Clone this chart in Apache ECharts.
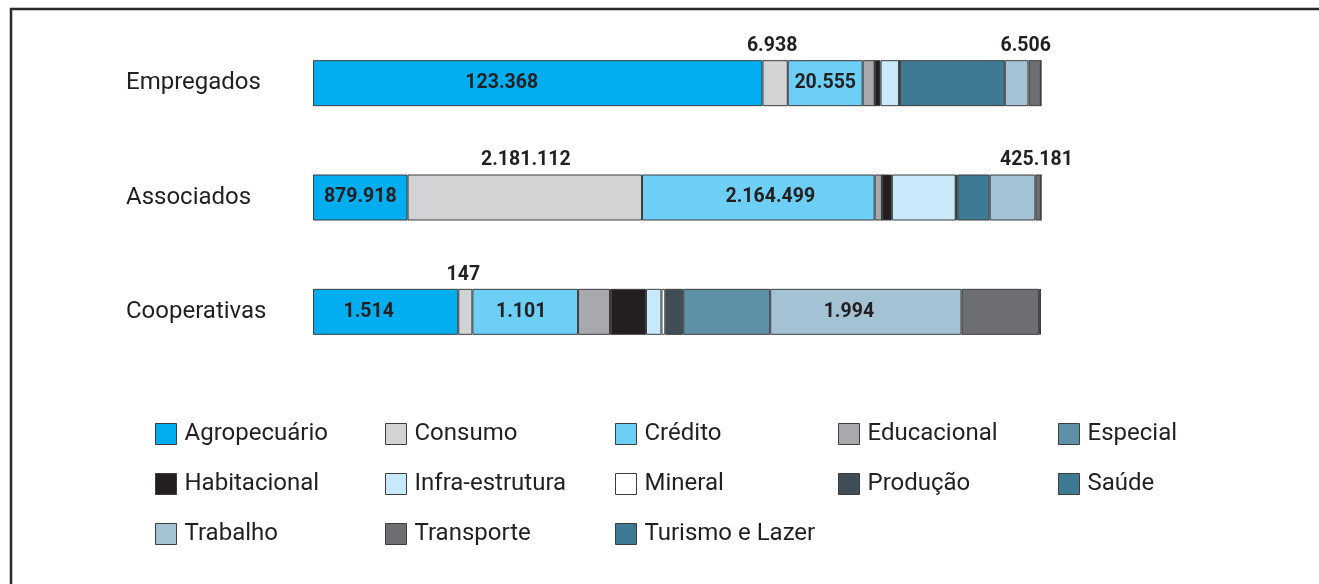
<!DOCTYPE html>
<html>
<head>
<meta charset="utf-8">
<script src="https://cdn.jsdelivr.net/npm/echarts@6/dist/echarts.min.js"></script>
<style>
    html, body { margin: 0; padding: 0; background: #fff; }
    #main { width: 1319px; height: 584px; }
</style>
</head>
<body>
<div id="main"></div>
<script>
// categorias e ramos
var categorias = ['Empregados', 'Associados', 'Cooperativas'];
var ramos = ['Agropecuário', 'Consumo', 'Crédito', 'Educacional', 'Especial',
    'Habitacional', 'Infra-estrutura', 'Mineral', 'Produção', 'Saúde',
    'Trabalho', 'Transporte', 'Turismo e Lazer'];

// valores por ramo (mesma ordem de ramos)
var empregados   = [123368, 6938, 20555, 3300, 10, 1600, 5100, 50, 150, 28800, 6506, 3400, 30];
var associados   = [879918, 2181112, 2164499, 68000, 2000, 90000, 594000, 5000, 10000, 301000, 425181, 52000, 500];
var cooperativas = [1514, 147, 1101, 333, 7, 368, 161, 40, 187, 906, 1994, 808, 20];

var cores = ['#00aeef', '#d1d3d4', '#6dcff6', '#a7a9ac', '#5e91a8',
    '#231f20', '#c7e9f9', '#ffffff', '#414e58', '#3e7a93',
    '#a3c2d3', '#6d6e71', '#3e7a93'];

// onde aparecem os rótulos: [Empregados, Associados, Cooperativas]
var rotulos = {
    'Agropecuário': ['inside', 'inside', 'inside'],
    'Consumo':      ['top', 'top', 'top'],
    'Crédito':      ['inside', 'inside', 'inside'],
    'Trabalho':     ['top', 'top', 'inside']
};
var deslocamento = {
    'Agropecuário': [-36, 0, -17],
    'Consumo':      [-3, 1, -2],
    'Crédito':      [0, 12, -4],
    'Trabalho':     [9, 24, -17]
};

var linhas = [empregados, associados, cooperativas];
var totais = linhas.map(function (l) {
    return l.reduce(function (a, b) { return a + b; }, 0);
});

function fmt(n) {
    return String(n).replace(/\B(?=(\d{3})+(?!\d))/g, '.');
}

var series = ramos.map(function (nome, i) {
    var data = linhas.map(function (l, c) {
        var item = { value: l[i] / totais[c] * 100 };
        var pos = rotulos[nome] ? rotulos[nome][c] : null;
        if (pos) {
            item.label = {
                show: true,
                position: pos,
                distance: 4,
                offset: [deslocamento[nome][c], 0]
            };
        }
        // na barra de cooperativas o ramo Saúde aparece mais claro
        if (nome === 'Saúde' && c === 2) {
            item.itemStyle = { color: '#5e91a8' };
        }
        return item;
    });
    return {
        name: nome,
        type: 'bar',
        stack: 'total',
        barWidth: 46,
        itemStyle: { color: cores[i], borderColor: '#3d3d3f', borderWidth: 1 },
        label: {
            show: false,
            color: '#231f20',
            fontFamily: 'Roboto',
            fontWeight: 'bold',
            fontSize: 19.5,
            formatter: function (p) { return fmt(linhas[p.dataIndex][i]); }
        },
        emphasis: { disabled: true },
        data: data
    };
});

// legenda em 5 colunas
var colunasX = [155, 385, 615, 838, 1058];
var legendas = colunasX.map(function (x, c) {
    var itens = [];
    for (var k = c; k < ramos.length; k += 5) itens.push(ramos[k]);
    return {
        orient: 'vertical',
        left: x,
        top: 422,
        padding: 0,
        itemWidth: 21,
        itemHeight: 21,
        itemGap: 26,
        icon: 'rect',
        selectedMode: false,
        itemStyle: { borderColor: '#3d3d3f', borderWidth: 1 },
        textStyle: {
            fontFamily: 'Roboto',
            fontSize: 24,
            lineHeight: 24,
            color: '#231f20',
            padding: [0, 0, 0, 3]
        },
        data: itens
    };
});

var myChart = echarts.init(document.getElementById('main'), null, { renderer: 'canvas' });

myChart.setOption({
    animation: false,
    backgroundColor: '#ffffff',
    grid: { left: 313, width: 728, top: 26, height: 343, containLabel: false },
    xAxis: {
        type: 'value',
        min: 0,
        max: 100,
        show: false
    },
    yAxis: {
        type: 'category',
        inverse: true,
        data: categorias,
        axisLine: { show: false },
        axisTick: { show: false },
        axisLabel: {
            align: 'left',
            margin: 187,
            fontFamily: 'Roboto',
            fontSize: 24,
            color: '#231f20'
        }
    },
    legend: legendas,
    graphic: [
        {
            type: 'polyline',
            shape: { points: [[11, 584], [11, 9], [1319, 9]] },
            style: { stroke: '#2b2b2b', lineWidth: 2.5, fill: null }
        }
    ],
    series: series
});
</script>
</body>
</html>
